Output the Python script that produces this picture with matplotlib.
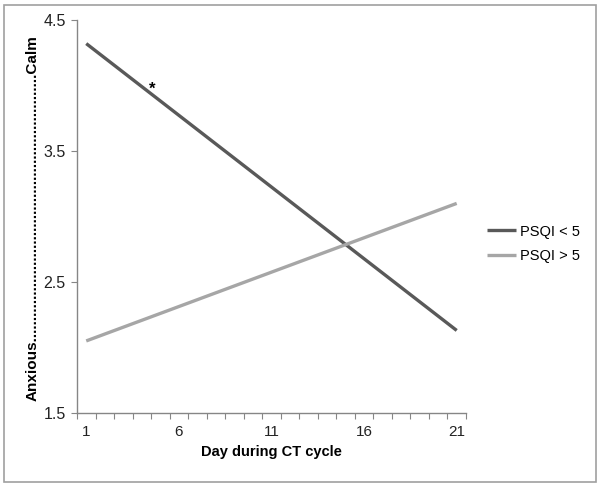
import matplotlib
matplotlib.use("Agg")
import matplotlib.pyplot as plt
from matplotlib.patches import Rectangle
import numpy as np

plt.rcParams['font.family'] = ['Liberation Sans', 'DejaVu Sans']

days = [1, 21]
psqi_low = [4.32, 2.13]    # PSQI < 5
psqi_high = [2.05, 3.10]   # PSQI > 5
x_labels = [1, 6, 11, 16, 21]
y_ticks = [1.5, 2.5, 3.5, 4.5]

fig = plt.figure(figsize=(6.0, 4.87), dpi=100)
ax = fig.add_axes([0.1283, 0.152, 0.6483, 0.8069])

ax.plot(days, psqi_low, color='#595959', lw=2.4, label='PSQI < 5', solid_capstyle='butt')
ax.plot(days, psqi_high, color='#a6a6a6', lw=2.4, label='PSQI > 5', solid_capstyle='butt')
ax.text(4.55, 3.97, '*', ha='center', va='center', fontsize=12, fontweight='bold')

ax.set_xlim(0.5, 21.5)
ax.set_ylim(1.5, 4.5)
ax.set_xticks(np.arange(0.5, 22, 1))
ax.set_xticklabels([])
ax.set_xticks(x_labels, minor=True)
ax.set_xticklabels([str(v) for v in x_labels], minor=True)
ax.tick_params(axis='x', which='major', length=4, color='#868686', direction='out')
ax.tick_params(axis='x', which='minor', length=0, pad=9, labelsize=11, labelcolor='#222222')
ax.set_yticks(y_ticks)
ax.set_yticklabels([str(v) for v in y_ticks])
ax.tick_params(axis='y', length=4, color='#868686', labelsize=11.5, pad=4, labelcolor='#222222')

for s in ['top', 'right']:
    ax.spines[s].set_visible(False)
for s in ['left', 'bottom']:
    ax.spines[s].set_color('#868686')
    ax.spines[s].set_linewidth(1)

ax.set_xlabel('Day during CT cycle', fontsize=10.5, fontweight='bold', labelpad=4)
fig.text(0.055, 0.552, 'Anxious' + '.' * 63 + 'Calm', rotation=90, ha='center', va='center',
         fontsize=11, fontweight='bold')

ax.legend(loc='center left', bbox_to_anchor=(1.02, 0.43), frameon=False, fontsize=10.5,
          handlelength=2.0, handletextpad=0.3, labelspacing=0.75)

fig.patches.append(Rectangle((0.006, 0.01), 0.988, 0.98, transform=fig.transFigure,
                             fill=False, edgecolor='#a0a0a0', lw=1.2))

fig.savefig('out.png', dpi=100)
